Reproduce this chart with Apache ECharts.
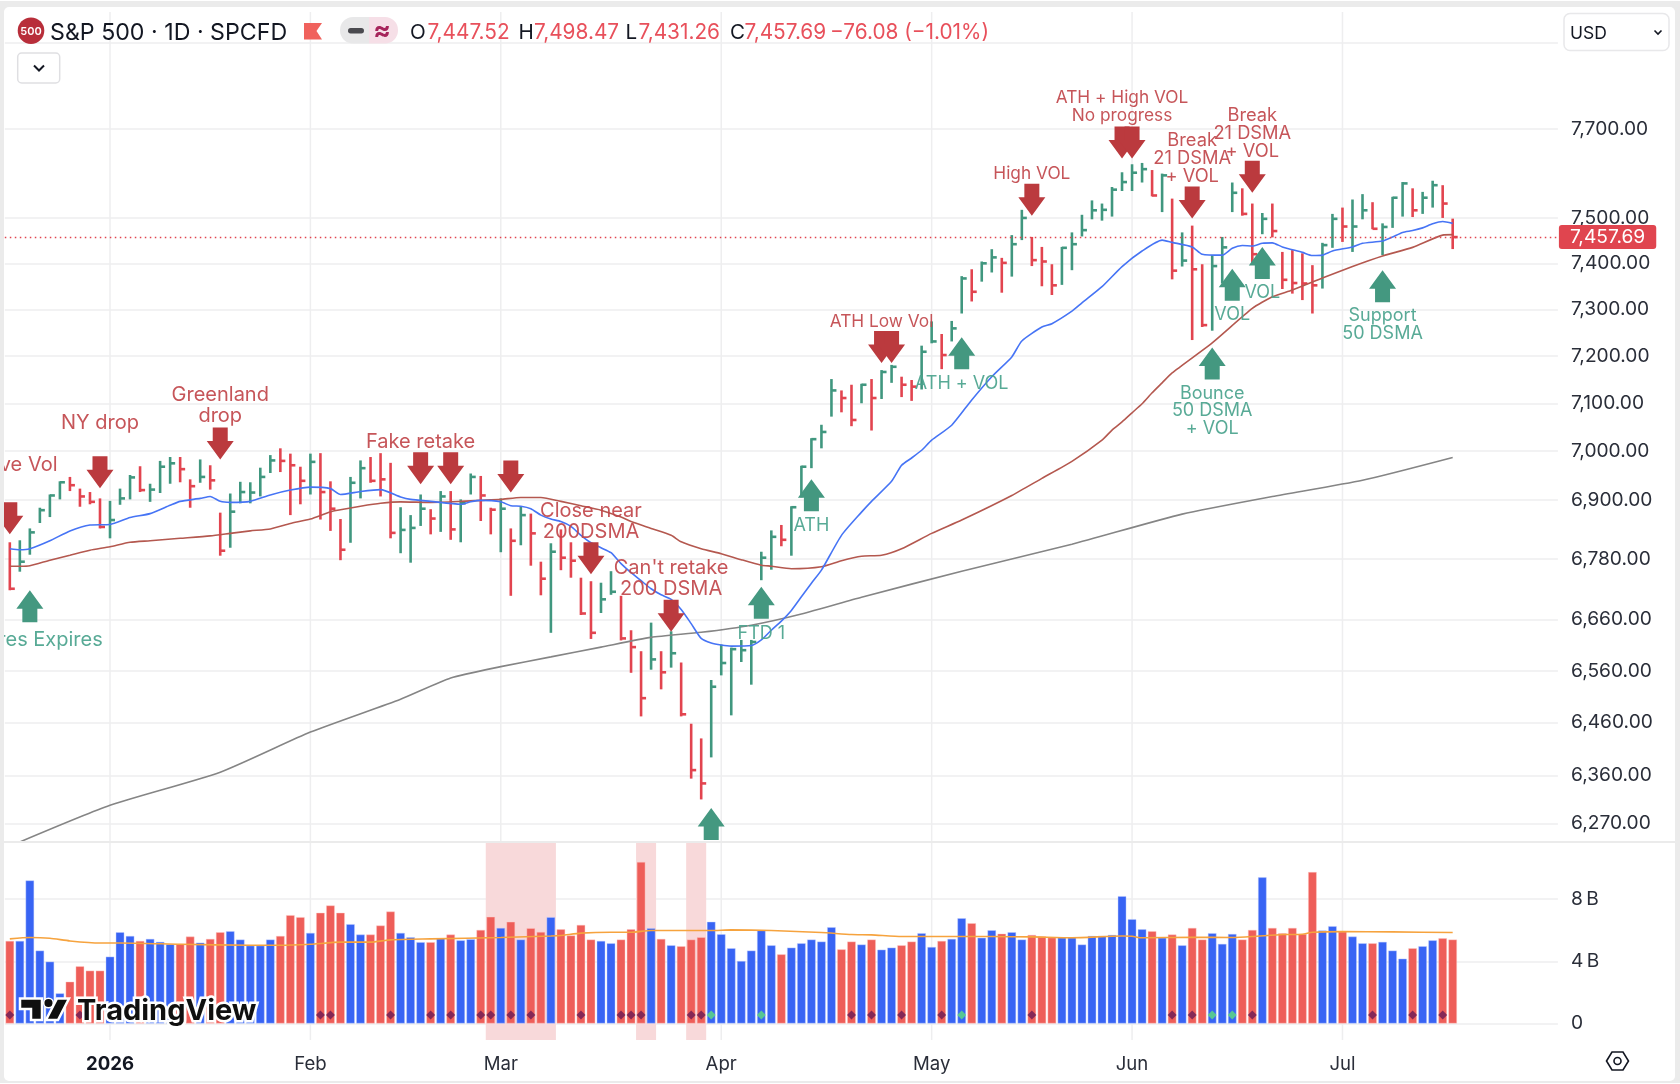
<!DOCTYPE html>
<html><head><meta charset="utf-8">
<style>html,body{margin:0;padding:0;background:#fff}#c{width:1680px;height:1084px}</style>
<script src="https://cdn.jsdelivr.net/npm/echarts@6/dist/echarts.min.js"></script>
</head><body><div id="c"></div>
<script>
const highs=[6814,6818,6842,6884,6911,6938,6947,6923,6916,6903,
6898,6923,6951,6969,6933,6980,6988,6988,6942,6983,
6971,6874,6913,6937,6936,6966,6992,7006,6995,6968,
6995,6996,6938,6861,6947,6981,6988,6996,6976,6885,
6869,6911,6881,6918,6918,6901,6954,6949,6884,6903,
6842,6887,6872,6775,6812,6840,6814,6743,6736,6733,
6756,6707,6639,6598,6654,6598,6637,6576,6458,6430,
6542,6611,6605,6620,6620,6795,6838,6849,6887,6970,
7027,7055,7151,7127,7139,7141,7151,7170,7181,7156,
7149,7222,7274,7247,7275,7372,7387,7404,7431,7412,
7462,7518,7458,7436,7398,7436,7468,7507,7539,7532,
7569,7602,7620,7623,7607,7599,7543,7468,7483,7398,
7418,7458,7579,7566,7532,7511,7532,7425,7429,7422,
7396,7445,7509,7523,7541,7553,7535,7488,7547,7580,
7566,7558,7583,7573,7498.47];
const lows=[6718,6755,6789,6853,6865,6901,6918,6886,6891,6842,
6822,6890,6901,6916,6896,6914,6933,6936,6884,6935,
6921,6787,6803,6893,6893,6907,6955,6957,6869,6891,
6911,6860,6837,6778,6813,6903,6935,6907,6822,6792,
6773,6847,6830,6835,6819,6814,6911,6857,6830,6794,
6707,6808,6767,6708,6634,6758,6743,6669,6622,6673,
6709,6619,6556,6472,6562,6524,6566,6472,6354,6315,
6394,6551,6474,6577,6533,6738,6759,6806,6787,6905,
6965,7006,7072,7081,7052,7100,7043,7109,7143,7113,
7105,7129,7227,7172,7231,7291,7317,7360,7380,7336,
7371,7451,7394,7350,7331,7353,7385,7459,7497,7494,
7503,7560,7560,7579,7548,7513,7365,7393,7234,7262,
7254,7356,7513,7505,7400,7464,7457,7344,7334,7320,
7291,7345,7434,7447,7425,7497,7475,7418,7478,7503,
7502,7509,7523,7500,7431.26];
const closes=[6721,6775,6834,6879,6909,6936,6930,6907,6896,6845,
6859,6903,6946,6920,6921,6968,6975,6963,6928,6947,
6940,6797,6876,6916,6915,6947,6981,6980,6971,6939,
6978,6916,6882,6799,6935,6965,6939,6942,6833,6839,
6843,6882,6862,6907,6840,6893,6947,6909,6880,6882,
6817,6869,6832,6741,6795,6783,6777,6672,6634,6700,
6715,6623,6606,6507,6582,6557,6594,6476,6370,6345,
6529,6575,6602,6600,6616,6783,6825,6819,6885,6968,
7025,7040,7127,7111,7065,7139,7111,7166,7177,7139,
7135,7209,7231,7202,7259,7367,7338,7400,7413,7401,
7442,7500,7407,7404,7352,7434,7442,7473,7517,7518,
7563,7580,7601,7609,7550,7595,7384,7406,7387,7266,
7394,7435,7556,7509,7420,7498,7471,7364,7357,7356,
7352,7440,7498,7481,7481,7517,7476,7480,7545,7577,
7517,7545,7573,7532,7457.69];
const directions=("r ggggg rrrr ggg r ggg rr g r r ggggg rrr g rrr gg rrr ggg r g r gg rr g r g rr g rrrr gg rrr g r g rrr ggggggg r ggggg rr g r gg rr gg r gg r gg r gg rrr ggggggggg r g r g rr ggg rr g rrrrr gg r gg r ggg r gg rr").replace(/ /g,"").split("");
const volumes=[5.31,5.31,9.20,4.69,3.98,1.94,2.69,3.68,3.40,3.40,
4.30,5.87,5.63,5.31,5.44,5.25,5.10,5.12,5.59,5.20,
5.44,5.87,5.94,5.40,5.01,5.01,5.40,5.63,6.97,6.84,
5.83,7.12,7.59,7.12,6.39,5.72,5.72,6.30,7.20,5.83,
5.55,5.23,5.23,5.48,5.72,5.35,5.42,6.02,6.86,6.15,
6.54,5.40,6.13,5.89,6.84,6.06,5.66,6.34,5.40,5.31,
5.16,5.40,6.06,10.39,6.13,5.44,5.03,4.97,5.40,5.55,
6.54,5.74,4.84,4.02,4.69,6.00,5.03,4.45,4.88,5.16,
5.40,5.27,6.19,4.77,5.27,5.08,5.40,4.75,4.88,5.03,
5.27,5.81,4.92,5.31,5.44,6.77,6.45,5.51,6.00,5.78,
5.87,5.40,5.70,5.59,5.53,5.53,5.53,5.08,5.63,5.63,
5.70,8.19,6.71,6.06,5.94,5.51,5.72,5.03,6.15,5.40,
5.81,5.12,5.76,5.40,6.02,9.40,6.15,5.81,6.15,5.76,
9.74,5.98,6.26,5.91,5.59,5.16,5.16,5.25,4.69,4.17,
4.84,4.97,5.35,5.48,5.40];
const volumeAverage=[[0,5.44],[2,5.53],[4,5.48],[6,5.31],[9,5.18],[11,5.18],[17,5.10],[24,5.03],[27,5.03],[30,5.10],[33,5.23],[36,5.23],[38,5.38],[42,5.44],[49,5.53],[54,5.63],[55,5.66],[57,5.81],[60,5.87],[62,5.87],[64,5.98],[70,5.98],[72,6.02],[76,5.98],[81,5.85],[84,5.72],[86,5.70],[89,5.59],[94,5.59],[98,5.59],[102,5.57],[106,5.51],[111,5.63],[112,5.61],[113,5.51],[118,5.55],[122,5.53],[124,5.59],[127,5.72],[129,5.74],[130,5.87],[133,5.91],[138,5.89],[144,5.85]];
const ma21=[[0,6801],[1,6799],[2,6801],[4,6817],[6,6837],[8,6849],[10,6850],[12,6864],[14,6872],[16,6889],[17,6897],[19,6903],[20,6907],[21,6897],[22,6895],[24,6897],[26,6910],[28,6920],[30,6926],[32,6923],[33,6911],[35,6917],[37,6921],[39,6906],[40,6901],[42,6897],[45,6891],[46,6896],[47,6899],[49,6896],[50,6888],[51,6887],[52,6882],[53,6869],[54,6861],[55,6856],[56,6846],[57,6828],[58,6813],[59,6803],[60,6793],[61,6771],[62,6753],[63,6737],[64,6721],[65,6709],[66,6700],[67,6680],[68,6652],[69,6623],[70,6614],[71,6610],[72,6608],[74,6609],[75,6620],[76,6639],[77,6657],[78,6678],[79,6705],[80,6732],[81,6758],[83,6828],[85,6875],[86,6897],[88,6938],[89,6971],[90,6986],[91,7002],[92,7023],[94,7054],[96,7107],[98,7156],[100,7198],[101,7232],[103,7262],[104,7269],[106,7296],[107,7314],[109,7349],[111,7393],[113,7427],[115,7451],[116,7446],[118,7436],[119,7420],[121,7418],[122,7433],[123,7439],[124,7438],[125,7444],[126,7445],[127,7436],[129,7424],[130,7417],[131,7418],[132,7427],[134,7436],[135,7444],[137,7449],[138,7458],[139,7468],[140,7472],[141,7478],[142,7487],[143,7492],[144,7488]];
const ma50=[[0,6766],[1,6766],[2,6767],[4,6778],[6,6788],[8,6798],[10,6805],[12,6814],[14,6817],[17,6822],[20,6827],[22,6832],[24,6837],[26,6841],[28,6852],[30,6861],[32,6876],[33,6880],[35,6887],[37,6893],[39,6896],[42,6895],[45,6897],[47,6899],[49,6901],[51,6905],[53,6905],[55,6897],[57,6888],[59,6879],[61,6865],[62,6856],[64,6842],[66,6828],[67,6815],[69,6801],[71,6791],[73,6779],[75,6768],[76,6766],[78,6761],[81,6765],[83,6777],[85,6786],[87,6788],[89,6801],[92,6832],[95,6859],[100,6909],[103,6944],[106,6979],[109,7023],[110,7044],[111,7061],[112,7080],[113,7099],[114,7122],[115,7143],[116,7164],[120,7228],[124,7302],[126,7327],[128,7342],[131,7368],[134,7393],[137,7416],[140,7435],[143,7462],[144,7463]];
const ma200=[[1,6236],[10,6304],[21,6366],[30,6442],[39,6505],[44,6546],[49,6568],[54,6587],[59,6606],[64,6625],[69,6635],[74,6649],[79,6671],[85,6704],[95,6756],[106,6810],[117,6871],[126,6907],[135,6940],[144,6987]];
const priceTicks=[7900,7700,7500,7400,7300,7200,7100,7000,6900,6780,6660,6560,6460,6360,6270];
const priceLabels=[7700,7500,7400,7300,7200,7100,7000,6900,6780,6660,6560,6460,6360,6270];
const volumeTicks=[0,4,8];
const monthIndex=[10,30,49,71,92,112,133];
const monthLabels=["2026","Feb","Mar","Apr","May","Jun","Jul"];
const shadedRanges=[[48,54],[63,64],[68,69]];
const purpleDots=[0,7,31,32,38,42,44,47,48,50,52,57,61,62,63,68,69,84,86,89,93,102,116,118,124,136,140,143];
const greenDots=[70,75,95,120,122];
const downArrows=[[0,6830],[9,6924],[21,6983],[41,6932],[44,6932],[50,6915],[58,6750],[66,6636],[87,7185],[88,7185],[102,7505],[111,7633],[112,7633],[118,7499],[124,7556]];
const upArrows=[[2,6718],[75,6725],[70,6299],[80,6942],[95,7240],[122,7388],[125,7436],[120,7218],[137,7385]];
const redNotesLarge=[[0,6975,"Above Vol"],[9,7061,"NY drop"],[21,7099,"Greenland\ndrop"],[41,7023,"Fake retake"],[58,6860,"Close near\n200DSMA"],[66,6745,"Can't retake\n200 DSMA"]];
const redNotesSmall=[[87,7277,"ATH Low Vol"],[102,7603,"High VOL"],[111,7753,"ATH + High VOL\nNo progress"]];
const redNotesBreak=[[118,7636,"Break\n21 DSMA\n+ VOL"],[124,7693,"Break\n21 DSMA\n+ VOL"]];
const greenNotesLarge=[[2,6623,"Futures Expires"]];
const greenNotes=[[75,6635,"FTD 1"],[80,6851,"ATH"],[95,7144,"ATH + VOL"],[122,7291,"VOL"],[125,7339,"VOL"],[120,7087,"Bounce\n50 DSMA\n+ VOL"],[137,7270,"Support\n50 DSMA"]];
const lastClose=7457.69;
const headerValues=["7,447.52","7,498.47","7,431.26","7,457.69","−76.08 (−1.01%)"];

const FONT='Inter, "Noto Sans", sans-serif';
const GREEN="#40977f",RED="#e2444f",DARKRED="#bb3a3e",ARROWGREEN="#449880";
const VBLUE="#3864f4",VRED="#ee5e59";
const N=155;
const cats=Array.from({length:N},(_,i)=>"d"+i);
const GL=4.8,GW=1553.1;
const hlc=highs.map((h,i)=>[i,h,lows[i],closes[i],directions[i]==="g"?1:0]);

function fmtPrice(v){return Math.round(v).toLocaleString("en-US",{minimumFractionDigits:2,maximumFractionDigits:2});}
function hlcItem(p,api){
  const i=api.value(0),hi=api.coord([i,api.value(1)]),lo=api.coord([i,api.value(2)]),cl=api.coord([i,api.value(3)]);
  const col=api.value(4)?GREEN:RED;const st={stroke:col,lineWidth:2.6};
  return {type:"group",children:[
    {type:"line",shape:{x1:hi[0],y1:hi[1],x2:lo[0],y2:lo[1]},style:st},
    {type:"line",shape:{x1:hi[0],y1:cl[1],x2:hi[0]+5,y2:cl[1]},style:st}]};
}
function vGridItem(p,api){
  const x=api.coord([api.value(0),api.value(1)])[0],cs=p.coordSys;
  return {type:"line",shape:{x1:x,y1:cs.y,x2:x,y2:cs.y+cs.height},style:{stroke:"#eeeeef",lineWidth:1.5}};
}
function bandItem(p,api){
  const a=api.coord([api.value(0),1])[0],b=api.coord([api.value(1),1])[0],w=api.size([1,0])[0],cs=p.coordSys;
  return {type:"rect",shape:{x:a-w/2,y:cs.y,width:b-a+w,height:cs.height},style:{fill:"#f8d9da"}};
}
function arrowItem(dir){return function(p,api){
  const c=api.coord([api.value(0),api.value(1)]),x=c[0],y=c[1],s=dir;
  return {type:"polygon",shape:{points:[[x,y],[x-13.5,y-s*18.5],[x-7.5,y-s*18.5],[x-7.5,y-s*32],[x+7.5,y-s*32],[x+7.5,y-s*18.5],[x+13.5,y-s*18.5]]},
    style:{fill:dir>0?DARKRED:ARROWGREEN}};
};}
function noteItem(col,size,lh){return function(p,api){
  const c=api.coord([api.value(0),api.value(1)]);
  return {type:"text",x:c[0],y:c[1]+1.5,style:{text:api.value(2),fill:col,font:size+'px '+FONT,align:"center",verticalAlign:"middle",lineHeight:lh,opacity:.92}};
};}
function lineS(name,data,color,xi,yi,z){return {name,type:"line",data,xAxisIndex:xi,yAxisIndex:yi,symbol:"none",z,silent:true,smooth:.2,lineStyle:{color,width:1.6},emphasis:{disabled:true}};}
function cust(name,data,fn,xi,yi,z,extra){return Object.assign({name,type:"custom",data,renderItem:fn,xAxisIndex:xi,yAxisIndex:yi,z,silent:true,clip:true},extra||{});}
const axisText={color:"#2a2e39",fontFamily:FONT,fontSize:19.2,padding:[5,0,0,0]};
const NOTE_ENC={encode:{x:0,y:1}};
const option={
  animation:false,
  grid:[{left:GL,top:12,width:GW,height:830},{left:GL,top:842,width:GW,height:198}],
  xAxis:[
    {type:"category",gridIndex:0,data:cats,axisLine:{show:false},axisTick:{show:false},axisLabel:{show:false},splitLine:{show:false}},
    {type:"category",gridIndex:1,data:cats,axisLine:{show:false},axisTick:{show:false},splitLine:{show:false},
     axisLabel:{interval:(i)=>monthIndex.includes(i),margin:15,color:"#2a2e39",fontFamily:FONT,fontSize:18.6,hideOverlap:false,
       formatter:(v,i)=>{const k=monthIndex.indexOf(i);if(k<0)return"";return k===0?"{b|"+monthLabels[k]+"}":monthLabels[k];},
       rich:{b:{fontWeight:700,fontSize:18.6,fontFamily:FONT,color:"#131722"}}}}
  ],
  yAxis:[
    {type:"log",logBase:10,gridIndex:0,position:"right",min:6236,max:7971,axisLine:{show:false},
     axisTick:{show:false,customValues:priceTicks},
     axisLabel:Object.assign({customValues:priceLabels,margin:13,formatter:v=>fmtPrice(v)},axisText),
     splitLine:{show:true,lineStyle:{color:"#eeeeef",width:1.5}},minorTick:{show:false}},
    {type:"value",gridIndex:1,position:"right",min:-1.06,max:11.67,axisLine:{show:false},
     axisTick:{show:false,customValues:volumeTicks},
     axisLabel:Object.assign({customValues:volumeTicks,margin:13,formatter:v=>v===0?"0":v+"\u2009B"},axisText,{padding:[6,0,0,0]}),
     splitLine:{show:true,lineStyle:{color:"#eeeeef",width:1.5}}}
  ],
  series:[
    cust("months",monthIndex.map(i=>[i,7000]),vGridItem,0,0,1),
    cust("monthsVol",monthIndex.map(i=>[i,1]),vGridItem,1,1,1),
    cust("shade",shadedRanges,bandItem,1,1,2,{encode:{x:[0,1]}}),
    {name:"Volume",type:"bar",xAxisIndex:1,yAxisIndex:1,z:3,barWidth:8.6,silent:true,
     data:volumes.map((v,i)=>({value:v,itemStyle:{color:directions[i]==="g"?VBLUE:VRED,borderColor:directions[i]==="g"?"rgba(190,205,255,.7)":"rgba(255,200,195,.7)",borderWidth:.6}}))},
    {name:"Signal",type:"scatter",xAxisIndex:1,yAxisIndex:1,z:4,symbol:"diamond",symbolSize:9,silent:true,data:purpleDots.map(i=>[i,.55]),itemStyle:{color:"#6a1a55"}},
    {name:"SignalUp",type:"scatter",xAxisIndex:1,yAxisIndex:1,z:4,symbol:"diamond",symbolSize:9,silent:true,data:greenDots.map(i=>[i,.55]),itemStyle:{color:"#5fdf7c"}},
    lineS("Vol MA",volumeAverage,"#f6a33e",1,1,5),
    cust("HLC",hlc,hlcItem,0,0,3),
    lineS("MA200",ma200,"#858585",0,0,4),
    lineS("MA50",ma50,"#b4584f",0,0,4),
    lineS("MA21",ma21,"#4674f5",0,0,4),
    {name:"Last",type:"line",xAxisIndex:0,yAxisIndex:0,data:[],z:4,silent:true,symbol:"none",
     markLine:{silent:true,symbol:"none",animation:false,z:9,
       lineStyle:{color:RED,type:[1.5,3.5],width:1.3},
       label:{position:"end",distance:1,formatter:()=>"7,457.69",color:"#fff",backgroundColor:"#e0454f",borderRadius:3,padding:[3,11,2,11],fontFamily:FONT,fontSize:19.2},
       data:[{yAxis:lastClose}]}},
    cust("RedArrows",downArrows,arrowItem(1),0,0,6),
    cust("GreenArrows",upArrows,arrowItem(-1),0,0,6),
    cust("RedNotesLarge",redNotesLarge,noteItem("#c1474b",20,21),0,0,7,NOTE_ENC),
    cust("RedNotesSmall",redNotesSmall,noteItem("#c1474b",17.3,18),0,0,7,NOTE_ENC),
    cust("RedNotesBreak",redNotesBreak,noteItem("#c1474b",18.3,17.7),0,0,7,NOTE_ENC),
    cust("GreenNotesLarge",greenNotesLarge,noteItem("#4aa38d",20,21),0,0,7,NOTE_ENC),
    cust("GreenNotes",greenNotes,noteItem("#4aa38d",18,17.7),0,0,7,NOTE_ENC)
  ],
  graphic:[
    {type:"rect",z:-100,shape:{x:0,y:1,width:1680,height:1082},style:{fill:"#ebebeb"},silent:true},
    {type:"rect",z:-99,shape:{x:4,y:7,width:1671,height:1074,r:5},style:{fill:"#fff"},silent:true},
    {type:"rect",z:50,shape:{x:4,y:841,width:1671,height:2},style:{fill:"#ebebeb"},silent:true},
    {type:"circle",z:50,shape:{cx:31,cy:30.7,r:13.3},style:{fill:"#b82e3a"},silent:true},
    {type:"text",z:51,x:31,y:31.5,style:{text:"500",fill:"#fff",font:'600 11px '+FONT,align:"center",verticalAlign:"middle"},silent:true},
    {type:"text",z:51,x:50,y:33,style:{text:"S&P 500 · 1D · SPCFD",fill:"#131722",font:'23.2px '+FONT,verticalAlign:"middle"},silent:true},
    {type:"polygon",z:50,shape:{points:[[304,23],[322,23],[316.5,31],[322,39.5],[304,39.5]]},style:{fill:"#f0625d"},silent:true},
    {type:"rect",z:50,shape:{x:369,y:17,width:29,height:26.5,r:[0,13,13,0]},style:{fill:"#f6dfe7"},silent:true},
    {type:"rect",z:50,shape:{x:340,y:17,width:29,height:26.5,r:[13,0,0,13]},style:{fill:"#e8e8e9"},silent:true},
    {type:"rect",z:51,shape:{x:348,y:28,width:16,height:5.5,r:2.7},style:{fill:"#4a4a4f"},silent:true},
    {type:"text",z:51,x:382,y:31,style:{text:"≈",fill:"#a6245b",font:'700 26px '+FONT,align:"center",verticalAlign:"middle"},silent:true},
    ...[["O",410],["H",518.5],["L",625.6],["C",730]].map(a=>({type:"text",z:51,x:a[1],y:33,style:{text:a[0],fill:"#131722",font:'20.6px '+FONT,verticalAlign:"middle"},silent:true})),
    ...[427.4,534,638.5,744.5,830].map((x,i)=>({type:"text",z:51,x,y:33,style:{text:headerValues[i],fill:"#e8505b",font:'20.8px '+FONT,verticalAlign:"middle"},silent:true})),
    {type:"rect",z:50,shape:{x:17.7,y:53,width:42,height:30,r:4},style:{fill:"#fff",stroke:"#dfdfe2",lineWidth:1.5},silent:true},
    {type:"polyline",z:51,shape:{points:[[34,65.5],[39,70.5],[44,65.5]]},style:{fill:null,stroke:"#131722",lineWidth:2},silent:true},
    {type:"rect",z:50,shape:{x:1564,y:13.5,width:105,height:37,r:6},style:{fill:"#fff",stroke:"#e8e8ea",lineWidth:1.5},silent:true},
    {type:"text",z:51,x:1570,y:34,style:{text:"USD",fill:"#131722",font:'17.5px '+FONT,verticalAlign:"middle"},silent:true},
    {type:"polyline",z:51,shape:{points:[[1654.5,30.5],[1658,34],[1661.5,30.5]]},style:{fill:null,stroke:"#131722",lineWidth:1.6},silent:true},
    {type:"polygon",z:50,shape:{points:[[20,998.5],[42,998.5],[42,1020],[31,1020],[31,1009],[20,1009]]},style:{fill:"#0f0f0f",stroke:"#fff",lineWidth:2.5},silent:true},
    {type:"circle",z:50,shape:{cx:48.5,cy:1003,r:4.8},style:{fill:"#0f0f0f",stroke:"#fff",lineWidth:1.5},silent:true},
    {type:"polygon",z:50,shape:{points:[[57,998.5],[69,998.5],[58,1020],[46,1020]]},style:{fill:"#0f0f0f",stroke:"#fff",lineWidth:2.5},silent:true},
    {type:"text",z:50,x:77,y:1011,style:{text:"TradingView",fill:"#0f0f0f",stroke:"#fff",lineWidth:5,font:'700 29px '+FONT,verticalAlign:"middle"},silent:true},
    {type:"polygon",z:50,shape:{points:[[1606.5,1061],[1612,1052],[1623,1052],[1628.5,1061],[1623,1070],[1612,1070]]},style:{fill:null,stroke:"#131722",lineWidth:1.6},silent:true},
    {type:"circle",z:50,shape:{cx:1617.5,cy:1061,r:3.5},style:{fill:null,stroke:"#131722",lineWidth:1.6},silent:true}
  ]
};
echarts.init(document.getElementById("c"),null,{renderer:"canvas"}).setOption(option);
</script></body></html>
